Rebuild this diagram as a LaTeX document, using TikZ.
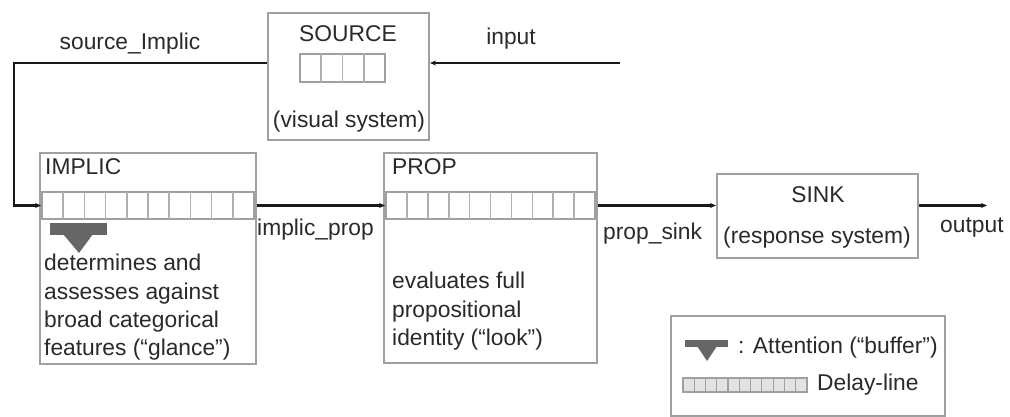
\documentclass[tikz,border=0pt]{standalone}
\usepackage{fontspec}
\setmainfont{Liberation Sans}
\usetikzlibrary{arrows.meta}
\definecolor{boxgray}{HTML}{A0A0A0}
\definecolor{cellgray}{HTML}{B0B0B0}
\definecolor{txtgray}{HTML}{2A2A2A}
\definecolor{attgray}{HTML}{666666}
\begin{document}
\begin{tikzpicture}[x=1pt,y=-1pt,
  font=\fontsize{22.8}{28.4}\selectfont,
  box/.style={draw=boxgray, line width=2pt, fill=white, inner sep=0pt},
  dl/.style={draw=boxgray, line width=1.8pt, fill=white, inner sep=0pt, minimum height=27pt},
  cell/.style={draw=cellgray, line width=1.6pt},
  conn/.style={draw=black!90, line width=2.2pt, -{Stealth[length=6pt,width=5pt]}},
  lbl/.style={inner sep=0pt, text=txtgray},
  att/.style={fill=attgray, draw=none}]
\useasboundingbox (0,0) rectangle (1010,417);

% boxes
\node[box, minimum width=161pt, minimum height=127pt] (src) at (348.5,76.5) {};
\node[box, minimum width=216pt, minimum height=211pt] (impl) at (148,258.5) {};
\node[box, minimum width=213pt, minimum height=210pt] (prop) at (490.5,258) {};
\node[box, minimum width=201pt, minimum height=84pt] (sink) at (817.5,216) {};
\node[box, minimum width=274pt, minimum height=100pt] (leg) at (808,366) {};

% delay lines
\node[dl, minimum width=85pt, minimum height=28pt] (sdl) at (342.5,68) {};
\foreach \i in {1,...,3} \draw[cell] ({300+21.25*\i},54) -- ({300+21.25*\i},82);
\node[dl, minimum width=212pt] (idl) at (148,205.5) {};
\foreach \i in {1,...,9} \draw[cell] ({42+21.2*\i},192) -- ({42+21.2*\i},219);
\node[dl, minimum width=209pt] (pdl) at (490.5,205.5) {};
\foreach \i in {1,...,9} \draw[cell] ({386+20.9*\i},192) -- ({386+20.9*\i},219);
\node[dl, minimum width=124pt, minimum height=14pt, fill=cellgray!35, line width=1.4pt] (ldl) at (745,385) {};
\foreach \i in {1,...,10} \draw[cell, line width=1.2pt, draw=boxgray] ({683+11.27*\i},378) -- ({683+11.27*\i},392);

% attention icons
\fill[att] (50,223) rectangle (107,235);
\fill[att] (63,234) -- (93,234) -- (79,253) -- cycle;
\fill[att] (685,340) rectangle (728,347);
\fill[att] (697,346) -- (717,346) -- (707,361) -- cycle;

% box texts
\node[lbl, anchor=north] (srct) at (348,25) {SOURCE};
\node[lbl, anchor=base] (srcs) at (349,128) {(visual system)};
\node[lbl, anchor=north west] (implt) at (45,158) {IMPLIC};
\node[lbl, anchor=north west, align=left] (impld) at (44,254)
  {determines and\\assesses against\\broad categorical\\features (“glance”)};
\node[lbl, anchor=north west] (propt) at (392,158) {PROP};
\node[lbl, anchor=north west, align=left] (propd) at (392,272)
  {evaluates full\\propositional\\identity (“look”)};
\node[lbl, anchor=base] (sinkt) at (818,203) {SINK};
\node[lbl, anchor=base] (sinks) at (817,243) {(response system)};
\node[lbl, anchor=base west] (lega) at (738,353) {: Attention (“buffer”)};
\node[lbl, anchor=base west] (legd) at (817,390) {Delay-line};

% connectors
\coordinate (inp) at (620,63);
\coordinate (c1) at (14,63);
\coordinate (out) at (987,205.5);
\draw[conn] (inp) -- (inp -| src.east);
\draw[conn] (c1 -| src.west) -- (c1) |- (idl.west);
\draw[conn] (impl.east |- idl.east) -- (pdl.west);
\draw[conn] (prop.east |- pdl.east) -- (sink.west |- pdl.east);
\draw[conn] (sink.east |- out) -- (out);

% connector labels
\node[lbl, anchor=base] (lsi) at (130,50) {source\_Implic};
\node[lbl, anchor=base] (lin) at (511,45) {input};
\node[lbl, anchor=base west] (lip) at (257,235) {implic\_prop};
\node[lbl, anchor=base west] (lps) at (603,240) {prop\_sink};
\node[lbl, anchor=base west] (lout) at (940,233) {output};
\end{tikzpicture}
\end{document}
